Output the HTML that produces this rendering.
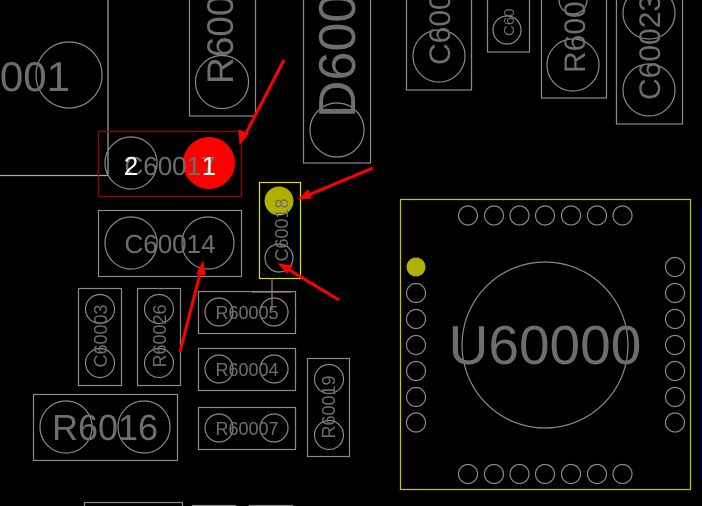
<!DOCTYPE html>
<html><head><style>
html,body{margin:0;padding:0;background:#000;width:702px;height:506px;overflow:hidden}
svg{display:block}
text{font-family:"Liberation Sans",sans-serif;fill:#6e6e6e}
</style></head><body>
<svg width="702" height="506" viewBox="0 0 702 506" xmlns="http://www.w3.org/2000/svg">
<g fill="none" stroke="#8a8a8a" stroke-width="1.2">
<polyline points="108,0 108,175.5 0,175.5" stroke="#aaa"/>
<circle cx="69" cy="75" r="33"/>
<rect x="189.5" y="-2" width="66" height="118"/>
<circle cx="222" cy="82" r="26.5"/>
<rect x="303.5" y="-2" width="67" height="165"/>
<circle cx="337" cy="130" r="27"/>
<circle cx="131" cy="163" r="26"/>
<rect x="98.5" y="210.5" width="143" height="66"/>
<circle cx="131" cy="243" r="26"/>
<circle cx="208" cy="243" r="26"/>
<circle cx="279" cy="258" r="14"/>
<rect x="78.5" y="288.5" width="43" height="97"/>
<circle cx="100" cy="309" r="14.5"/><circle cx="100" cy="363" r="14.5"/>
<rect x="137.5" y="288.5" width="43" height="97"/>
<circle cx="159" cy="309" r="14.5"/><circle cx="159" cy="363" r="14.5"/>
<rect x="198.5" y="291.5" width="97" height="42"/>
<circle cx="219" cy="312" r="14"/><circle cx="274" cy="312" r="14"/>
<rect x="198.5" y="348.5" width="97" height="42"/>
<circle cx="219" cy="369" r="14"/><circle cx="274" cy="369" r="14"/>
<rect x="198.5" y="407.5" width="97" height="42"/>
<circle cx="219" cy="428" r="14"/><circle cx="274" cy="428" r="14"/>
<rect x="307.5" y="358.5" width="42" height="98"/>
<circle cx="329" cy="379" r="14.5"/><circle cx="329" cy="435" r="14.5"/>
<rect x="33.5" y="394.5" width="144" height="66"/>
<circle cx="66" cy="427" r="26"/><circle cx="144" cy="427" r="26"/>
<rect x="84.5" y="502.5" width="98" height="10"/>
<rect x="192.5" y="505.5" width="43" height="10"/>
<rect x="249.5" y="505.5" width="43" height="10"/>
<rect x="406.5" y="-2" width="65" height="92"/>
<circle cx="439" cy="56" r="26"/>
<rect x="487.5" y="-2" width="42" height="54"/>
<circle cx="507" cy="30" r="14"/>
<rect x="541.5" y="-2" width="65" height="100"/>
<circle cx="573" cy="65" r="26"/><circle cx="573" cy="0" r="14"/>
<rect x="616.5" y="-2" width="66" height="126"/>
<circle cx="649" cy="13" r="26"/><circle cx="649" cy="90" r="26"/>
<circle cx="545" cy="345" r="83"/>
<g>
<circle cx="468" cy="215.5" r="9.5"/><circle cx="494" cy="215.5" r="9.5"/><circle cx="519.5" cy="215.5" r="9.5"/><circle cx="545" cy="215.5" r="9.5"/><circle cx="571" cy="215.5" r="9.5"/><circle cx="597" cy="215.5" r="9.5"/><circle cx="622.5" cy="215.5" r="9.5"/>
<circle cx="468" cy="474" r="9.5"/><circle cx="494" cy="474" r="9.5"/><circle cx="519.5" cy="474" r="9.5"/><circle cx="545" cy="474" r="9.5"/><circle cx="571" cy="474" r="9.5"/><circle cx="597" cy="474" r="9.5"/><circle cx="622.5" cy="474" r="9.5"/>
<circle cx="416" cy="293" r="9.5"/><circle cx="416" cy="319" r="9.5"/><circle cx="416" cy="345" r="9.5"/><circle cx="416" cy="371" r="9.5"/><circle cx="416" cy="397" r="9.5"/><circle cx="416" cy="422.5" r="9.5"/>
<circle cx="675" cy="267" r="9.5"/><circle cx="675" cy="293" r="9.5"/><circle cx="675" cy="319" r="9.5"/><circle cx="675" cy="345" r="9.5"/><circle cx="675" cy="371" r="9.5"/><circle cx="675" cy="397" r="9.5"/><circle cx="675" cy="422.5" r="9.5"/>
</g>
</g>
<rect x="400.5" y="199.5" width="290" height="290" fill="none" stroke="#c8c800" stroke-width="1.2"/>
<circle cx="416" cy="267" r="9.5" fill="#b0b000"/>
<rect x="98.5" y="131.5" width="143" height="65" fill="none" stroke="#a00000" stroke-width="1.2"/>
<circle cx="209" cy="163" r="26" fill="#ff0000"/>
<rect x="259.5" y="182.5" width="41" height="96" fill="none" stroke="#e0e000" stroke-width="1.2"/>
<circle cx="279" cy="201" r="14.5" fill="#b0b000"/>
<g stroke="#a08080" stroke-width="1.2"><line x1="272" y1="278" x2="272" y2="310"/><line x1="252" y1="292" x2="292" y2="292"/></g>
<text x="70" y="91" font-size="42" text-anchor="end">0001</text>
<text transform="translate(233,84) rotate(-90)" font-size="37">R600</text>
<text transform="translate(355,118) rotate(-90)" font-size="52">D600</text>
<text x="170" y="175" font-size="26" text-anchor="middle">C60017</text>
<text x="131" y="175" font-size="26" text-anchor="middle" style="fill:#fff">2</text>
<text x="209" y="175" font-size="26" text-anchor="middle" style="fill:#fff">1</text>
<text x="170" y="253" font-size="26" text-anchor="middle">C60014</text>
<text transform="translate(288,230) rotate(-90)" font-size="18" text-anchor="middle">C60018</text>
<text transform="translate(107,336) rotate(-90)" font-size="18" text-anchor="middle">C60003</text>
<text transform="translate(166,336) rotate(-90)" font-size="18" text-anchor="middle">R60026</text>
<text x="247" y="319" font-size="18" text-anchor="middle">R60005</text>
<text x="247" y="376" font-size="18" text-anchor="middle">R60004</text>
<text x="247" y="435" font-size="18" text-anchor="middle">R60007</text>
<text transform="translate(335,407) rotate(-90)" font-size="18" text-anchor="middle">R60019</text>
<text x="105" y="440" font-size="36" text-anchor="middle">R6016</text>
<text transform="translate(450,65) rotate(-90)" font-size="30">C600</text>
<text transform="translate(514,36) rotate(-90)" font-size="15">C60</text>
<text transform="translate(585,73) rotate(-90)" font-size="30">R6001</text>
<text transform="translate(660,100) rotate(-90)" font-size="30">C60023</text>
<text x="545" y="364" font-size="55" text-anchor="middle">U60000</text>
<g stroke="#ff0000" stroke-width="3" fill="#ff0000">
<line x1="284" y1="60" x2="244" y2="137"/>
<polygon points="240,144 239,130 248,134" stroke-width="1"/>
<line x1="373" y1="168" x2="306" y2="196"/>
<polygon points="299,199 308,190 311,198" stroke-width="1"/>
<line x1="339" y1="300" x2="286" y2="268"/>
<polygon points="279,264 292,266 287,273" stroke-width="1"/>
<line x1="180" y1="352" x2="201" y2="270"/>
<polygon points="203,262 205,275 197,273" stroke-width="1"/>
</g>
</svg>
</body></html>
